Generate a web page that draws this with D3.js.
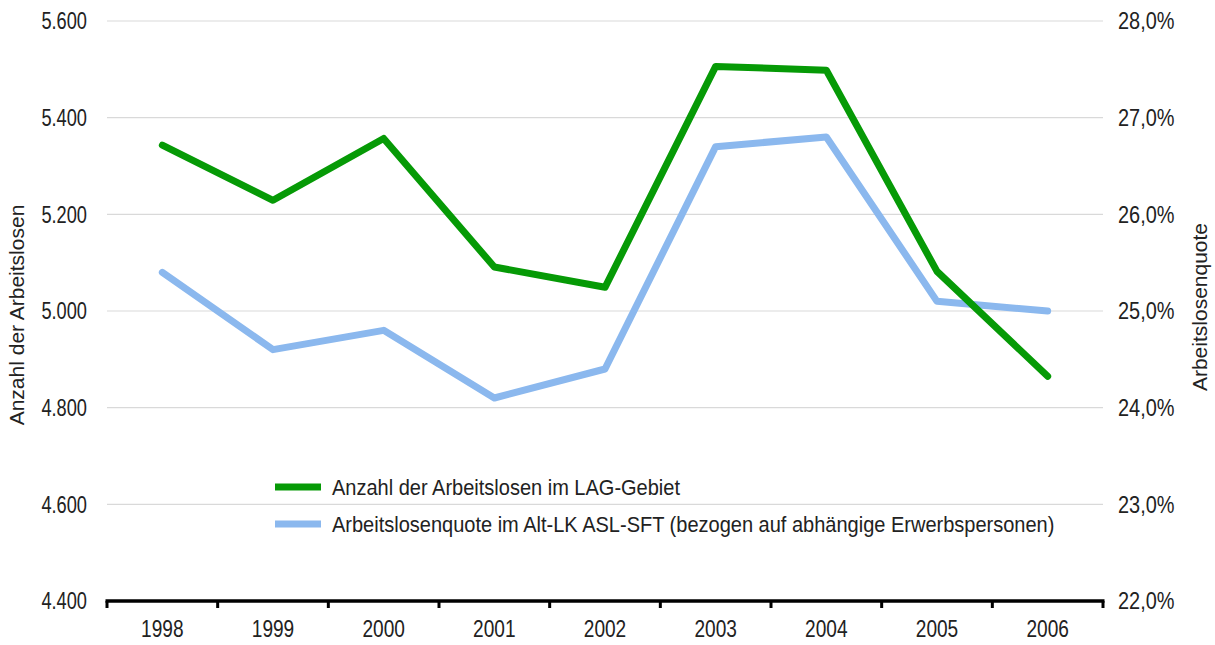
<!DOCTYPE html>
<html>
<head>
<meta charset="utf-8">
<script src="https://cdn.jsdelivr.net/npm/d3@7"></script>
<style>
  body { margin: 0; background: #fff; }
  svg { display: block; }
  text { font-family: "Liberation Sans", Arial, sans-serif; fill: #222; }
</style>
</head>
<body>
<script>
/*** data ***/
const years = ["1998", "1999", "2000", "2001", "2002", "2003", "2004", "2005", "2006"];
const anzahl = [5343, 5229, 5357, 5091, 5049, 5506, 5498, 5082, 4865];   // left axis
const quote = [25.4, 24.6, 24.8, 24.1, 24.4, 26.7, 26.8, 25.1, 25.0];    // right axis, %
const leftTicks = [4400, 4600, 4800, 5000, 5200, 5400, 5600];
const rightTicks = [22, 23, 24, 25, 26, 27, 28];
const legendLabels = [
  "Anzahl der Arbeitslosen im LAG-Gebiet",
  "Arbeitslosenquote im Alt-LK ASL-SFT (bezogen auf abhängige Erwerbspersonen)"
];

/*** layout ***/
const width = 1215, height = 645;
const margin = { top: 21, right: 112, bottom: 44, left: 107 };
const green = "#069a06", blue = "#8bb8ee";

const svg = d3.select("body").append("svg")
  .attr("width", width)
  .attr("height", height);

const x = d3.scaleBand()
  .domain(years)
  .range([margin.left, width - margin.right]);

const yL = d3.scaleLinear()
  .domain([4400, 5600])
  .range([height - margin.bottom, margin.top]);

const yR = d3.scaleLinear()
  .domain([22, 28])
  .range([height - margin.bottom, margin.top]);

const fmtL = d3.formatLocale({ decimal: ",", thousands: ".", grouping: [3], currency: ["", "€"] });
const fmtLeft = fmtL.format(",d");
const fmtRight = d => fmtL.format(".1f")(d) + "%";

// squeeze text horizontally (the original uses a narrow font)
function narrow(sel, size, s) {
  sel.attr("font-size", size)
    .attr("font-family", null)
    .style("fill", "#222")
    .attr("x", function () { return (+this.getAttribute("x") || 0) / s; })
    .attr("transform", `scale(${s},1)`);
}

// gridlines
svg.append("g")
  .selectAll("line")
  .data(leftTicks.slice(1))
  .join("line")
  .attr("x1", margin.left)
  .attr("x2", width - margin.right)
  .attr("y1", d => yL(d))
  .attr("y2", d => yL(d))
  .attr("stroke", "#d9d9d9")
  .attr("stroke-width", 1.2);

// left axis labels
const axLeft = svg.append("g")
  .attr("transform", `translate(${margin.left},0)`)
  .call(d3.axisLeft(yL).tickValues(leftTicks).tickFormat(fmtLeft).tickSize(0).tickPadding(20));
axLeft.select(".domain").remove();
axLeft.selectAll("text").call(narrow, 24, 0.76);

// right axis labels
const axRight = svg.append("g")
  .attr("transform", `translate(${width - margin.right},0)`)
  .call(d3.axisRight(yR).tickValues(rightTicks).tickFormat(fmtRight).tickSize(0).tickPadding(15));
axRight.select(".domain").remove();
axRight.selectAll("text").call(narrow, 24, 0.83);

// x axis
const axBottom = svg.append("g")
  .attr("transform", `translate(0,${height - margin.bottom})`)
  .call(d3.axisBottom(x).tickSize(0).tickPadding(20));
axBottom.select(".domain").remove();
axBottom.selectAll("text").call(narrow, 23, 0.83);

const boundaries = years.map(d => x(d)).concat([x(years[years.length - 1]) + x.bandwidth()]);
svg.append("g")
  .selectAll("line")
  .data(boundaries)
  .join("line")
  .attr("x1", d => d)
  .attr("x2", d => d)
  .attr("y1", height - margin.bottom)
  .attr("y2", height - margin.bottom + 7)
  .attr("stroke", "#000")
  .attr("stroke-width", 3);

svg.append("line")
  .attr("x1", margin.left - 1.5)
  .attr("x2", width - margin.right + 1.5)
  .attr("y1", height - margin.bottom)
  .attr("y2", height - margin.bottom)
  .attr("stroke", "#000")
  .attr("stroke-width", 3.5);

// axis titles
svg.append("text")
  .attr("transform", "translate(24,315) rotate(-90)")
  .attr("text-anchor", "middle")
  .attr("font-size", 21)
  .text("Anzahl der Arbeitslosen");

svg.append("text")
  .attr("transform", "translate(1207,307) rotate(-90)")
  .attr("text-anchor", "middle")
  .attr("font-size", 21)
  .text("Arbeitslosenquote");

// lines
const cx = d => x(d) + x.bandwidth() / 2;

svg.append("path")
  .datum(quote)
  .attr("fill", "none")
  .attr("stroke", blue)
  .attr("stroke-width", 7)
  .attr("stroke-linejoin", "round")
  .attr("stroke-linecap", "round")
  .attr("d", d3.line().x((d, i) => cx(years[i])).y(d => yR(d)));

svg.append("path")
  .datum(anzahl)
  .attr("fill", "none")
  .attr("stroke", green)
  .attr("stroke-width", 7)
  .attr("stroke-linejoin", "round")
  .attr("stroke-linecap", "round")
  .attr("d", d3.line().x((d, i) => cx(years[i])).y(d => yL(d)));

// legend
const legend = svg.append("g").attr("transform", "translate(275,487)");
const legendItems = legend.selectAll("g")
  .data(legendLabels)
  .join("g")
  .attr("transform", (d, i) => `translate(0,${i * 37})`);

legendItems.append("line")
  .attr("x1", 0)
  .attr("x2", 46)
  .attr("stroke", (d, i) => i === 0 ? green : blue)
  .attr("stroke-width", 7);

legendItems.append("text")
  .attr("x", 57)
  .attr("dy", "0.35em")
  .text(d => d)
  .call(narrow, 22, 0.91);
</script>
</body>
</html>
